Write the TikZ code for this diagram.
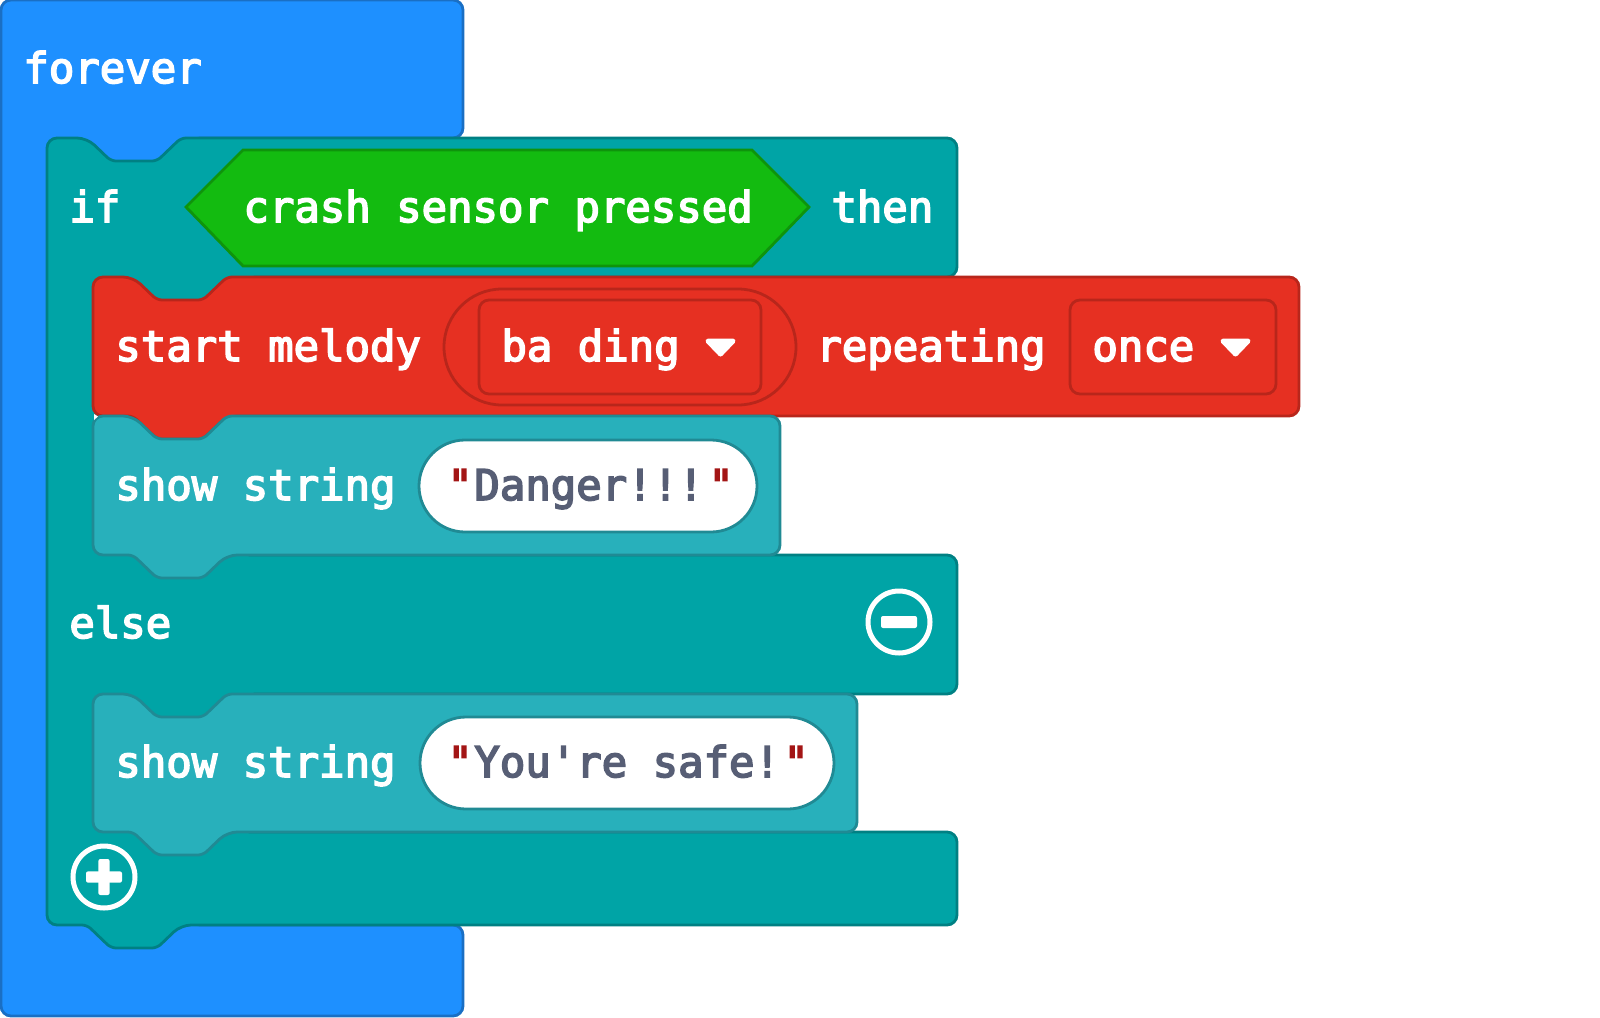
\documentclass[tikz,border=0pt]{standalone}
\usepackage{fontspec}
\newfontfamily\blockfont{DejaVu Sans Mono}
\definecolor{loopfill}{HTML}{1E90FF}
\definecolor{loopline}{HTML}{1A6FC4}
\definecolor{iffill}{HTML}{00A4A6}
\definecolor{ifline}{HTML}{008083}
\definecolor{musicfill}{HTML}{E63022}
\definecolor{musicline}{HTML}{B8261B}
\definecolor{showfill}{HTML}{28B0BB}
\definecolor{showline}{HTML}{208A94}
\definecolor{sensorfill}{HTML}{13BB10}
\definecolor{sensorline}{HTML}{0F940C}
\definecolor{stringtext}{HTML}{575E75}
\definecolor{quotetext}{HTML}{A31515}
\tikzset{
    blocktext/.style={anchor=base west, inner sep=0pt, text=white, font=\blockfont\fontsize{21.15}{21}\selectfont\special{pdf:literal 2 Tr 0.8 w}},
    stringtext/.style={blocktext, text=stringtext},
    quotetext/.style={blocktext, text=quotetext},
    loopblock/.style={fill=loopfill, draw=loopline, line width=1.4pt, rounded corners=5pt},
    ifblock/.style={fill=iffill, draw=ifline, line width=1.4pt, rounded corners=5pt},
    musicblock/.style={fill=musicfill, draw=musicline, line width=1.4pt, rounded corners=5pt},
    showblock/.style={fill=showfill, draw=showline, line width=1.4pt, rounded corners=5pt},
    sensorblock/.style={fill=sensorfill, draw=sensorline, line width=1.4pt},
    stringfield/.style={fill=white, draw=showline, line width=1.4pt, inner sep=0pt, minimum height=46pt, rounded corners=23pt},
    menufield/.style={draw=musicline, line width=1.4pt, inner sep=0pt, minimum height=47pt, rounded corners=5pt},
    tunefield/.style={draw=musicline, line width=1.4pt, inner sep=0pt, minimum width=176pt, minimum height=58pt, rounded corners=29pt},
    iconring/.style={circle, draw=white, line width=2.5pt, inner sep=0pt, minimum size=31pt},
    iconbar/.style={fill=white, rounded corners=1pt},
    menuarrow/.style={fill=white, draw=white, line width=2.5pt, line join=round}
}
\newcommand{\stackblock}[4]{(#1,#2) -- (#1+40,#2) [rounded corners=2.5pt] -- (#1+64,#2+23) -- (#1+110,#2+23) -- (#1+134,#2) [rounded corners=5pt] -- (#3,#2) -- (#3,#4) -- (#1+134,#4) [rounded corners=2.5pt] -- (#1+110,#4+23) -- (#1+64,#4+23) -- (#1+40,#4) [rounded corners=5pt] -- (#1,#4) -- cycle}
\begin{document}
\begin{tikzpicture}[x=0.5pt, y=-0.5pt]
    \useasboundingbox (0,0) rectangle (1600,1017);
    \draw[loopblock] (1,0) -- (463,0) -- (463,138) -- (190,138) -- (190,170) -- (60,170) -- (60,915) -- (190,915) -- (190,925) -- (463,925) -- (463,1016) -- (1,1016) -- cycle;
    \draw[ifblock] (47,138) -- (87,138) [rounded corners=2.5pt] -- (111,161) -- (157,161) -- (181,138) [rounded corners=5pt] -- (957,138) -- (957,277) -- (245,277) -- (245,305) -- (110,305) -- (110,545) -- (240,545) -- (240,555) -- (957,555) -- (957,694) -- (245,694) -- (245,722) -- (110,722) -- (110,822) -- (240,822) -- (240,832) -- (957,832) -- (957,925) -- (181,925) [rounded corners=2.5pt] -- (157,948) -- (111,948) -- (87,925) [rounded corners=5pt] -- (47,925) -- cycle;
    \draw[sensorblock] (186,207) -- (243,150) -- (752,150) -- (809,207) -- (752,266) -- (243,266) -- cycle;
    \draw[musicblock] \stackblock{93}{277}{1299}{416};
    \draw[showblock] \stackblock{93}{416}{780}{555};
    \draw[showblock] \stackblock{93}{694}{857}{832};
    \fill[white] (94,414) -- (98,416.5) -- (94,420) -- cycle;

    \node[tunefield] (tunefield) at (620,347) {};
    \node[menufield, minimum width=141pt] (tunemenu) at (620,347) {};
    \node[menufield, minimum width=103pt] (oncemenu) at (1173,347) {};
    \node[stringfield, minimum width=169pt] (dangerfield) at (588,486) {};
    \node[stringfield, minimum width=207pt] (safefield) at (627,763) {};
    \draw[menuarrow] (708,341) -- (733,341) -- (720.5,354) -- cycle;
    \draw[menuarrow] (1223,341) -- (1248,341) -- (1235.5,354) -- cycle;

    \node[blocktext] (forever) at (23,83) {forever};
    \node[blocktext] (iflabel) at (69,222) {if};
    \node[blocktext] (crash) at (243,222) {crash sensor pressed};
    \node[blocktext] (thenlabel) at (831,222) {then};
    \node[blocktext] (melody) at (115,361) {start melody};
    \node[blocktext] (tune) at (501,361) {ba ding};
    \node[blocktext] (repeating) at (816,361) {repeating};
    \node[blocktext] (once) at (1092,361) {once};
    \node[blocktext] (showdanger) at (115,500) {show string};
    \node[blocktext] (elselabel) at (69,638) {else};
    \node[blocktext] (showsafe) at (115,777) {show string};
    \node[quotetext] (dangeropen) at (447,500) {"};
    \node[stringtext] (danger) at (474,500) {Danger!!!};
    \node[quotetext] (dangerclose) at (708,500) {"};
    \node[quotetext] (safeopen) at (447,777) {"};
    \node[stringtext] (safe) at (474,777) {You're safe!};
    \node[quotetext] (safeclose) at (783,777) {"};

    \node[iconring] (minus) at (899,622) {};
    \path[iconbar] ([shift={(-9pt,-3pt)}]minus.center) rectangle ([shift={(9pt,3pt)}]minus.center);
    \node[iconring] (plus) at (104,877) {};
    \path[iconbar] ([shift={(-9pt,-2.8pt)}]plus.center) rectangle ([shift={(9pt,2.8pt)}]plus.center);
    \path[iconbar] ([shift={(-2.8pt,-9pt)}]plus.center) rectangle ([shift={(2.8pt,9pt)}]plus.center);
\end{tikzpicture}
\end{document}
